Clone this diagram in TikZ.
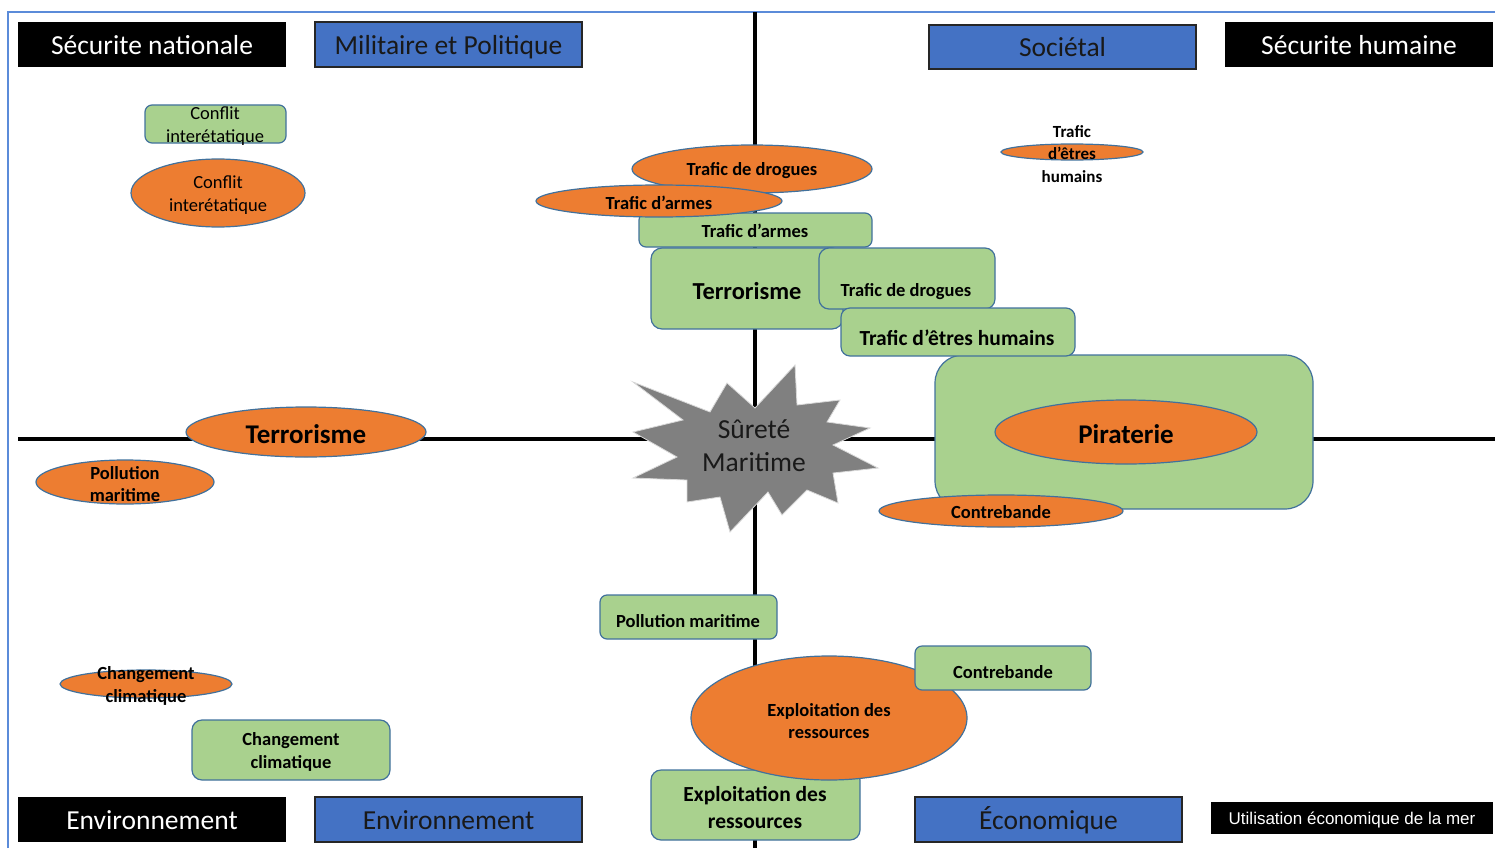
\documentclass[tikz,border=0pt]{standalone}
\usepackage{fontspec}
\setmainfont{Carlito}
\newfontfamily\arialfont{Liberation Sans}
\usetikzlibrary{shapes.geometric}
\definecolor{gfill}{HTML}{A9D18E}
\definecolor{ofill}{HTML}{ED7D31}
\definecolor{bfill}{HTML}{4472C4}
\definecolor{edgec}{HTML}{41719C}
\definecolor{framec}{HTML}{5B8BD9}
\definecolor{starfill}{HTML}{808080}
\tikzset{
  hdrblack/.style={fill=black, text=white, inner sep=0, font=\fontsize{27.5}{33}\selectfont, text height=22pt, text depth=2.5pt},
  hdrblue/.style={fill=bfill, draw=black!85, line width=1.2pt, text=black!90, inner sep=0, font=\fontsize{27.5}{33}\selectfont, text height=22pt, text depth=2.5pt},
  gbox/.style={fill=gfill, draw=edgec, line width=1.2pt, rounded corners=7pt, inner sep=0},
  oell/.style={ellipse, fill=ofill, draw=edgec, line width=1.2pt, inner sep=0},
  txt/.style={inner sep=0, align=center, text=black, yshift=-1.5pt},
  sm/.style={txt, font=\fontsize{18.5}{22.6}\selectfont},
  smb/.style={txt, font=\bfseries\fontsize{18.5}{22.6}\selectfont},
  mdb/.style={txt, font=\bfseries\fontsize{21.5}{27}\selectfont},
  lgb/.style={txt, font=\bfseries\fontsize{24.4}{29}\selectfont},
  xlb/.style={txt, font=\bfseries\fontsize{27}{32}\selectfont},
  axis/.style={line width=4pt, black},
}
\begin{document}
\begin{tikzpicture}[x=1pt,y=-1pt]
\useasboundingbox (0,0) rectangle (1495,848);
% frame
\coordinate (fr1) at (8,848);
\coordinate (fr2) at (8,12);
\coordinate (fr3) at (1495,12);
\draw[framec, line width=1.8pt] (fr1) -- (fr2) -- (fr3);
% axes
\coordinate (vt) at (755,12);
\coordinate (vb) at (755,848);
\coordinate (hl) at (18,439);
\coordinate (hr) at (1495,439);
\draw[axis] (vt) -- (vb);
\draw[axis] (hl) -- (hr);

% headers
\node[hdrblack, minimum width=268, minimum height=45] (h1) at (152,44.5) {Sécurite nationale};
\node[hdrblue, minimum width=267, minimum height=45] (h2) at (448.5,44.5) {Militaire et Politique};
\node[hdrblue, minimum width=267, minimum height=44] (h3) at (1062.5,47) {Sociétal};
\node[hdrblack, minimum width=268, minimum height=45] (h4) at (1359,44.5) {Sécurite humaine};
\node[hdrblack, minimum width=268, minimum height=45] (h5) at (152,819.5) {Environnement};
\node[hdrblue, minimum width=267, minimum height=45] (h6) at (448.5,819.5) {Environnement};
\node[hdrblue, minimum width=267, minimum height=45] (h7) at (1048.5,819.5) {Économique};
\node[fill=black, text=white, inner sep=0, minimum width=282, minimum height=32, font=\arialfont\fontsize{17}{20}\selectfont, text height=13pt, text depth=0.4pt] (h8) at (1352,818) {Utilisation économique de la mer};

% top-left quadrant
\node[gbox, minimum width=141, minimum height=38] (g1) at (215.5,124) {};
\node[sm] (g1t) at (215,124.5) {Conflit\\interétatique};
\node[oell, minimum width=174, minimum height=68] (o1) at (218,193) {};
\node[sm] (o1t) at (218,193.5) {Conflit\\interétatique};

% trafic cluster
\node[gbox, minimum width=233, minimum height=34] (g2) at (755.5,230) {};
\node[smb] (g2t) at (755,229) {Trafic d’armes};
\node[oell, minimum width=240, minimum height=48] (o2) at (752,169) {};
\node[smb] (o2t) at (752,169) {Trafic de drogues};
\node[oell, minimum width=246, minimum height=32] (o3) at (659,201) {};
\node[smb] (o3t) at (659,201) {Trafic d’armes};

\node[gbox, rounded corners=11pt, minimum width=192, minimum height=81] (g3) at (747,288.5) {};
\node[lgb] (g3t) at (747,290) {Terrorisme};
\node[gbox, rounded corners=10pt, minimum width=176, minimum height=61] (g4) at (907,278.5) {};
\node[smb] (g4t) at (906,290) {Trafic de drogues};

\node[gbox, rounded corners=28pt, minimum width=378, minimum height=154] (g10) at (1124,432) {};
\node[gbox, rounded corners=9pt, minimum width=234, minimum height=48] (g5) at (958,332) {};
\node[mdb] (g5t) at (957,336) {Trafic d’êtres humains};

% small ellipse top right
\node[oell, minimum width=142, minimum height=16] (o4) at (1072,152) {};
\node[smb, font=\bfseries\fontsize{17}{22.5}\selectfont] (o4t) at (1072,152.5) {Trafic\\d’êtres\\humains};

% star
\filldraw[fill=starfill, draw=white!85!black, line width=0.8pt]
 (633,382) -- (710,412) -- (727,383) -- (755,408) -- (795,365) -- (797,405)
 -- (840,400) -- (827,422) -- (870,428) -- (833,445) -- (878,468) -- (833,473)
 -- (838,503) -- (807,490) -- (782,515) -- (768,492) -- (730,532) -- (720,497)
 -- (687,502) -- (687,480) -- (633,478) -- (677,457) -- (633,432) -- (683,420) -- cycle;
\node[txt, font=\fontsize{27.5}{33}\selectfont, text=black!90] (st) at (754,444) {Sûreté\\Maritime};

% piraterie
\node[oell, minimum width=262, minimum height=64] (o5) at (1126,432) {};
\node[xlb] (o5t) at (1126,433) {Piraterie};
\node[oell, minimum width=244, minimum height=32] (o6) at (1001,511) {};
\node[smb] (o6t) at (1001,511) {Contrebande};

% left middle
\node[oell, minimum width=240, minimum height=50] (o7) at (306,432) {};
\node[xlb] (o7t) at (306,433) {Terrorisme};
\node[oell, minimum width=178, minimum height=44] (o8) at (125,482) {};
\node[smb] (o8t) at (125,482.5) {Pollution\\maritime};

% bottom centre
\node[gbox, minimum width=177, minimum height=44] (g6) at (688.5,617) {};
\node[smb] (g6t) at (688,620) {Pollution maritime};
\node[gbox, rounded corners=10pt, minimum width=209, minimum height=70] (g8) at (755.5,805) {};
\node[mdb] (g8t) at (755,806.5) {Exploitation des\\ressources};
\node[oell, minimum width=276, minimum height=124] (o9) at (829,718) {};
\node[smb] (o9t) at (829,719.5) {Exploitation des\\ressources};
\node[gbox, minimum width=176, minimum height=44] (g7) at (1003,668) {};
\node[smb] (g7t) at (1003,671) {Contrebande};

% bottom left
\node[gbox, rounded corners=10pt, minimum width=198, minimum height=60] (g9) at (291,750) {};
\node[smb] (g9t) at (291,750.5) {Changement\\climatique};
\node[oell, minimum width=172, minimum height=28] (o10) at (146,684) {};
\node[smb] (o10t) at (146,684.5) {Changement\\climatique};
\end{tikzpicture}
\end{document}
